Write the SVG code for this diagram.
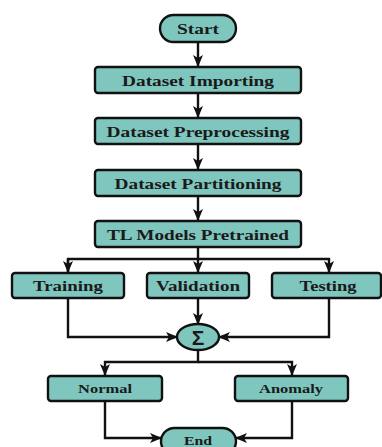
<svg xmlns="http://www.w3.org/2000/svg" width="382" height="447" viewBox="0 0 382 447">
<style>
.box{fill:#7fc6be;stroke:#111;stroke-width:2.4}
.t{font-family:"Liberation Serif","Times New Roman",serif;font-weight:bold;font-size:15px;fill:#1a1a1a;text-anchor:middle}
.s{font-size:13px}
.sig{font-family:"Liberation Sans",Arial,sans-serif;font-size:21px}
.c{fill:none;stroke:#111;stroke-width:2.4}
</style>
<defs>
<marker id="a" viewBox="0 0 12 12" refX="11" refY="6" markerWidth="12" markerHeight="12" markerUnits="userSpaceOnUse" orient="auto">
<path d="M0,1 L12,6 L0,11 L3,6 z" fill="#111"/>
</marker>
</defs>
<rect width="382" height="447" fill="#fff"/>
<g id="connectors">
<path class="c" d="M198,42 V66" marker-end="url(#a)"/>
<path class="c" d="M198,93 V117" marker-end="url(#a)"/>
<path class="c" d="M198,144 V169" marker-end="url(#a)"/>
<path class="c" d="M198,196 V220" marker-end="url(#a)"/>
<path class="c" d="M198,247 V272" marker-end="url(#a)"/>
<path class="c" d="M68,272 V259 H329 V272" marker-end="url(#a)"/>
<path class="c" d="M68,259 V272" marker-end="url(#a)"/>
<path class="c" d="M68,298 V337 H177" marker-end="url(#a)"/>
<path class="c" d="M198,298 V324" marker-end="url(#a)"/>
<path class="c" d="M329,298 V337 H219" marker-end="url(#a)"/>
<path class="c" d="M198,350 V362 H105 V375" marker-end="url(#a)"/>
<path class="c" d="M198,362 H292 V375" marker-end="url(#a)"/>
<path class="c" d="M105,401 V438 H161" marker-end="url(#a)"/>
<path class="c" d="M292,401 V438 H236" marker-end="url(#a)"/>
</g>
<g id="start"><rect class="box" x="160" y="15" width="76" height="27" rx="13.5"/><text class="t" x="198" y="33.5" textLength="42" lengthAdjust="spacingAndGlyphs">Start</text></g>
<g id="importing"><rect class="box" x="95" y="67" width="206" height="26" rx="3"/><text class="t" x="198" y="85.5" textLength="152" lengthAdjust="spacingAndGlyphs">Dataset Importing</text></g>
<g id="preprocessing"><rect class="box" x="95" y="118" width="206" height="26" rx="3"/><text class="t" x="198" y="136.5" textLength="183" lengthAdjust="spacingAndGlyphs">Dataset Preprocessing</text></g>
<g id="partitioning"><rect class="box" x="95" y="170" width="206" height="26" rx="3"/><text class="t" x="198" y="188.5" textLength="167" lengthAdjust="spacingAndGlyphs">Dataset Partitioning</text></g>
<g id="pretrained"><rect class="box" x="95" y="221" width="206" height="26" rx="3"/><text class="t" x="198" y="239.5" textLength="182" lengthAdjust="spacingAndGlyphs">TL Models Pretrained</text></g>
<g id="training"><rect class="box" x="12" y="273" width="112" height="25" rx="3"/><text class="t" x="68" y="290.5" textLength="70" lengthAdjust="spacingAndGlyphs">Training</text></g>
<g id="validation"><rect class="box" x="147" y="273" width="102" height="25" rx="3"/><text class="t" x="198" y="290.5" textLength="84" lengthAdjust="spacingAndGlyphs">Validation</text></g>
<g id="testing"><rect class="box" x="272" y="273" width="109" height="25" rx="3"/><text class="t" x="328" y="290.5" textLength="57" lengthAdjust="spacingAndGlyphs">Testing</text></g>
<g id="sum"><ellipse class="box" cx="198" cy="337" rx="21" ry="13"/><text class="t sig" x="198" y="344.5">Σ</text></g>
<g id="normal"><rect class="box" x="48" y="376" width="114" height="25" rx="3"/><text class="t s" x="105" y="393" textLength="54" lengthAdjust="spacingAndGlyphs">Normal</text></g>
<g id="anomaly"><rect class="box" x="235" y="376" width="113" height="25" rx="3"/><text class="t s" x="291" y="393" textLength="64" lengthAdjust="spacingAndGlyphs">Anomaly</text></g>
<g id="end"><rect class="box" x="161" y="428" width="75" height="27" rx="13.5"/><text class="t s" x="198" y="444.5" textLength="28" lengthAdjust="spacingAndGlyphs">End</text></g>
</svg>
